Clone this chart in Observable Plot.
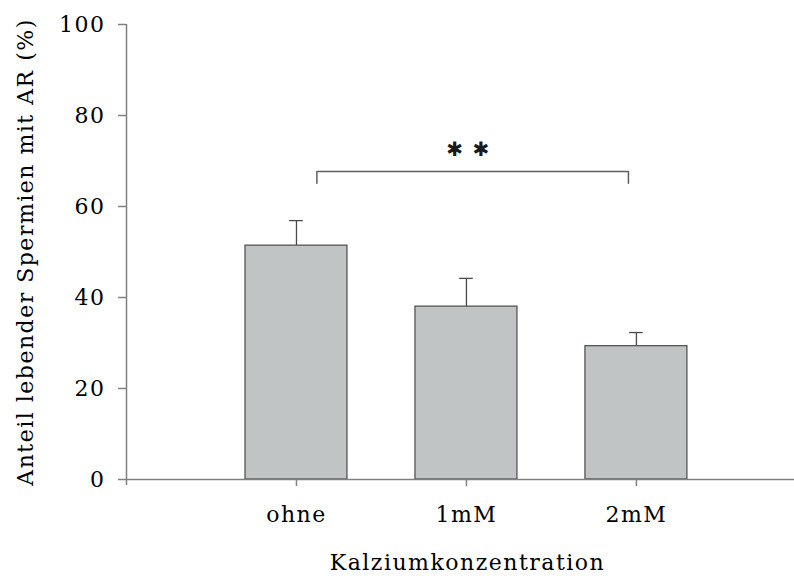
<!DOCTYPE html>
<html>
<head>
<meta charset="utf-8">
<script src="https://cdn.jsdelivr.net/npm/d3@7"></script>
<script src="https://cdn.jsdelivr.net/npm/@observablehq/plot@0.6"></script>
<style>
  body { margin: 0; background: #fff; }
  #chart svg { display: block; }
</style>
</head>
<body>
<div id="chart"></div>
<script>
// Data
const categories = ["ohne", "1mM", "2mM"];
const means = [51.4, 38.0, 29.3];
const upperErrors = [5.5, 6.2, 3.0];
const yTicks = [0, 20, 40, 60, 80, 100];
const yLabel = "Anteil lebender Spermien mit AR (%)";
const xLabel = "Kalziumkonzentration";
const sigText = "\u2731 \u2731";
const sigLevel = 67.7;
const sigDrop = 65.1;

const rows = categories.map((c, i) => ({cat: c, pos: i + 1, mean: means[i], top: means[i] + upperErrors[i]}));

const axisGray = "#808080";
const barFill = "#c0c4c4";
const barStroke = "#4a4a4a";
const halfBar = 0.3;
const halfCap = 0.04;
const fs = 22;

const bracket = [
  {x: 1 + 0.12, y: sigDrop},
  {x: 1 + 0.12, y: sigLevel},
  {x: 3 - 0.047, y: sigLevel},
  {x: 3 - 0.047, y: sigDrop}
];

const chart = Plot.plot({
  width: 794,
  height: 576,
  marginLeft: 126,
  marginRight: 0,
  marginTop: 24,
  marginBottom: 97,
  style: {fontFamily: "'DejaVu Serif', serif", fontSize: "22px", letterSpacing: "1.5px", color: "black", background: "white"},
  x: {domain: [0, 3.93], axis: null},
  y: {domain: [0, 100], axis: null},
  marks: [
    Plot.rectY(rows, {x1: d => d.pos - halfBar, x2: d => d.pos + halfBar, y: "mean", fill: barFill, stroke: barStroke, strokeWidth: 1.2}),
    Plot.ruleX(rows, {x: "pos", y1: "mean", y2: "top", stroke: barStroke, strokeWidth: 1.3}),
    Plot.ruleY(rows, {y: "top", x1: d => d.pos - halfCap, x2: d => d.pos + halfCap, stroke: barStroke, strokeWidth: 1.3}),
    Plot.ruleX([0], {y1: -1.3, y2: 100, stroke: axisGray, strokeWidth: 1.5}),
    Plot.ruleY([0], {x1: 0, x2: 3.93, stroke: axisGray, strokeWidth: 1.5}),
    Plot.axisY({ticks: yTicks, tickSize: 8, tickPadding: 13, label: null, stroke: axisGray, strokeWidth: 1.5, fill: "black", fontSize: fs}),
    Plot.axisX({ticks: [1, 2, 3], tickFormat: i => categories[i - 1], tickSize: 7, tickPadding: 20, label: null, stroke: axisGray, strokeWidth: 1.5, fill: "black", fontSize: fs}),
    Plot.line(bracket, {x: "x", y: "y", stroke: "#606060", strokeWidth: 1.5}),
    Plot.text([sigText], {x: 2.012, y: sigLevel, dy: -22, fontSize: 20, fontFamily: "'DejaVu Sans', sans-serif", fill: "#1a1a1a", lineAnchor: "middle"}),
    Plot.text([yLabel], {frameAnchor: "left", dx: -101, rotate: -90, textAnchor: "middle", fill: "black", fontSize: fs}),
    Plot.text([xLabel], {frameAnchor: "bottom", dx: 7, dy: 90, textAnchor: "middle", fill: "black", fontSize: fs})
  ]
});
document.getElementById("chart").appendChild(chart);
</script>
</body>
</html>
